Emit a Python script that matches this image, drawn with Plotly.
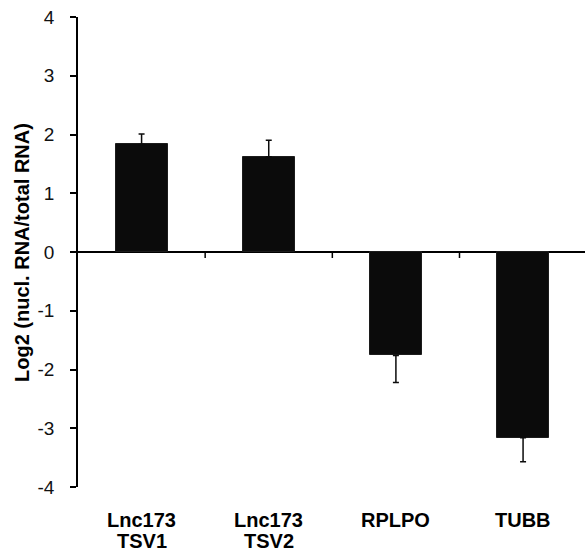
import plotly.graph_objects as go

# Data
categories = ["Lnc173 TSV1", "Lnc173 TSV2", "RPLPO", "TUBB"]
label_line1 = ["Lnc173", "Lnc173", "RPLPO", "TUBB"]
label_line2 = ["TSV1", "TSV2", "", ""]
values = [1.83, 1.62, -1.76, -3.16]
err_plus = [0.18, 0.28, 0.0, 0.0]
err_minus = [0.0, 0.0, 0.46, 0.41]
y_ticks = [-4, -3, -2, -1, 0, 1, 2, 3, 4]
y_ticktext = ["-4", "-3", "-2", "-1", "0", "1", "2", "3", "4"]
y_title = "Log2 (nucl. RNA/total RNA)"

xpos = list(range(len(categories)))

fig = go.Figure()
fig.add_trace(go.Bar(
    x=xpos, y=values, width=0.41,
    marker=dict(color="#0b0b0b", line=dict(color="#1c1c1c", width=1)),
    error_y=dict(type="data", symmetric=False, array=err_plus, arrayminus=err_minus,
                 color="#0b0b0b", thickness=1.5, width=3),
    showlegend=False,
))

FONT = "Liberation Sans, Arial, sans-serif"

annotations = []
for i, (a, b) in enumerate(zip(label_line1, label_line2)):
    annotations.append(dict(x=xpos[i], xref="x", y=0, yref="paper", yanchor="middle",
                            yshift=-33, text="<b>%s</b>" % a, showarrow=False,
                            font=dict(family=FONT, size=20, color="#000000")))
    if b:
        annotations.append(dict(x=xpos[i], xref="x", y=0, yref="paper", yanchor="middle",
                                yshift=-54, text="<b>%s</b>" % b, showarrow=False,
                                font=dict(family=FONT, size=20, color="#000000")))
annotations.append(dict(x=0, xref="paper", xshift=-56, y=0.5, yref="paper", yshift=-1,
                        xanchor="center", yanchor="middle", textangle=-90,
                        text="<b>%s</b>" % y_title, showarrow=False,
                        font=dict(family=FONT, size=20, color="#000000")))

shapes = []
for b in [0.5, 1.5, 2.5]:
    shapes.append(dict(type="line", xref="x", yref="y", ysizemode="pixel", yanchor=0,
                       x0=b, x1=b, y0=0, y1=-6, line=dict(color="#000000", width=1.5)))

fig.update_layout(
    width=585, height=551,
    margin=dict(l=77.5, r=0, t=17, b=64),
    paper_bgcolor="white", plot_bgcolor="white",
    xaxis=dict(range=[-0.5, 3.487], showticklabels=False, showline=False,
               showgrid=False, zeroline=False, ticks=""),
    yaxis=dict(range=[-4, 4], tickvals=y_ticks, ticktext=y_ticktext, showline=True,
               linecolor="#000000", linewidth=1.5, ticks="outside", ticklen=6,
               tickwidth=1.5, tickcolor="#000000",
               zeroline=True, zerolinecolor="#000000", zerolinewidth=1.5, showgrid=False,
               ticklabelstandoff=12,
               tickfont=dict(family=FONT, size=19, color="#111111")),
    annotations=annotations, shapes=shapes, bargap=0,
)

fig.write_html("out.html", config={"displayModeBar": False},
               post_script="document.body.style.margin='0';document.body.style.padding='0';")
